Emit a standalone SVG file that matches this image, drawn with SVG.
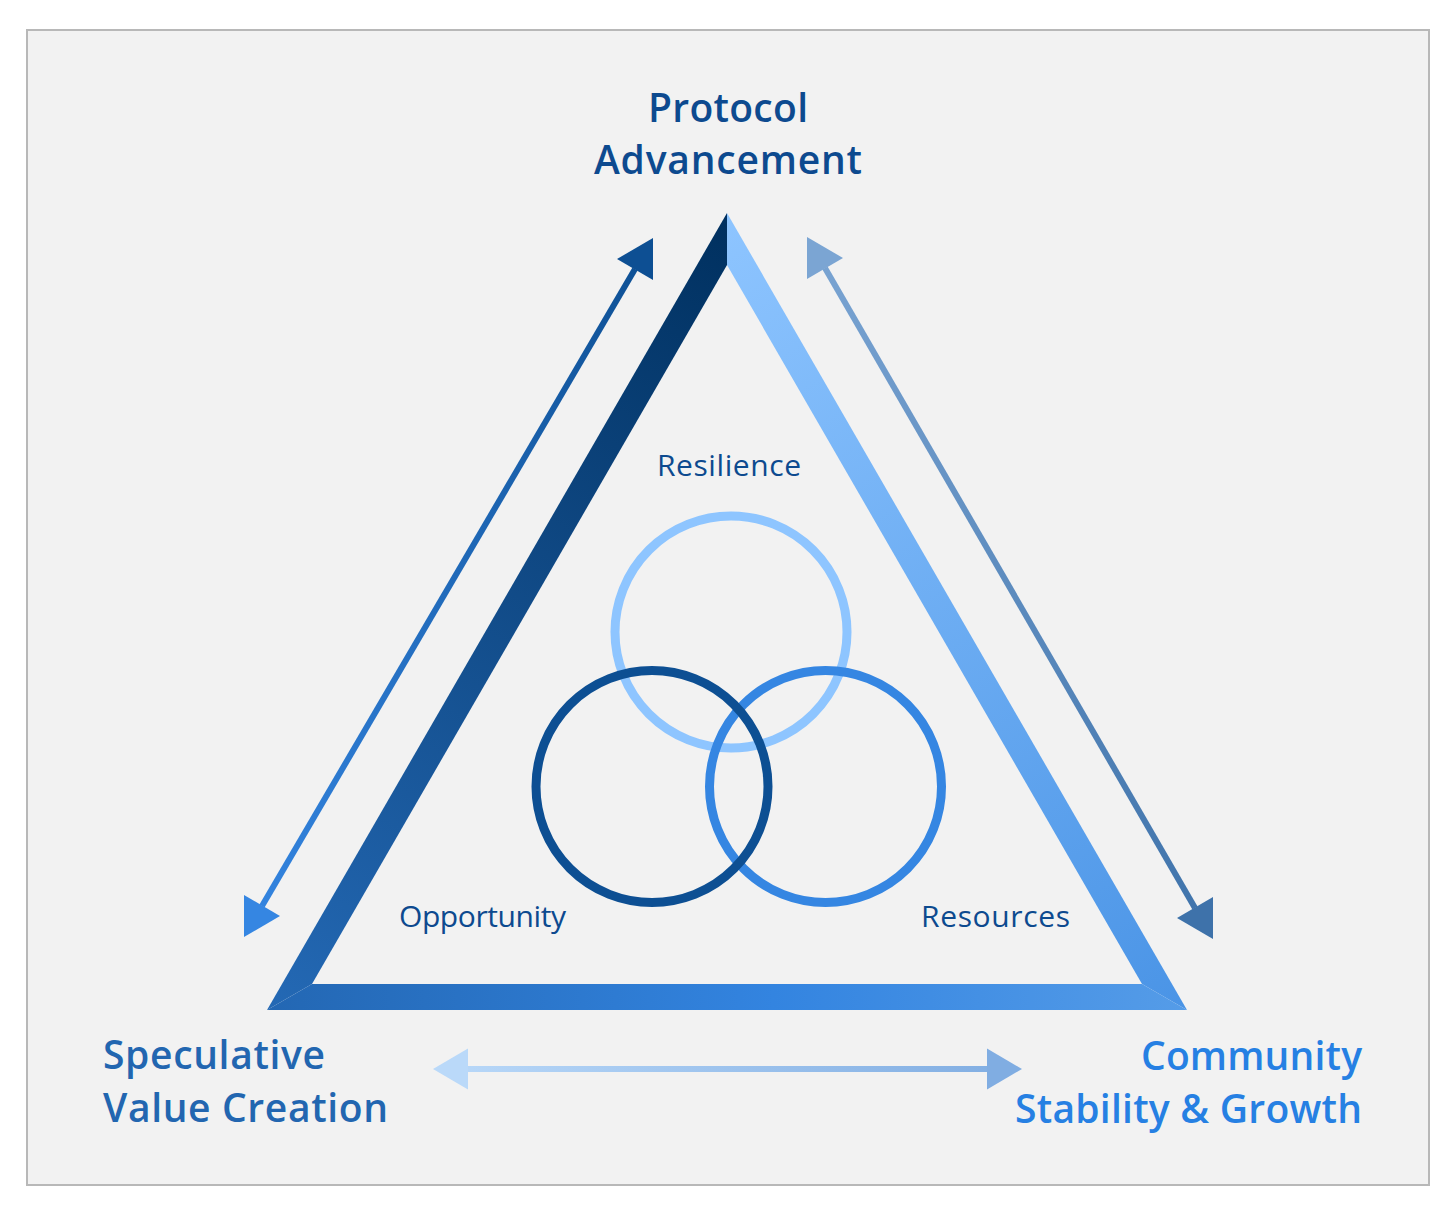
<svg xmlns="http://www.w3.org/2000/svg" width="1456" height="1213" viewBox="0 0 1456 1213">
  <style>
    .big { font-family: "Open Sans", "Liberation Sans", sans-serif; font-weight: 600; font-size: 39px; }
    .small { font-family: "Open Sans", "Liberation Sans", sans-serif; font-weight: 400; font-size: 30px; fill: #0d4a8f; }
    .ring { fill: none; stroke-width: 9; }
    .conn { fill: none; }
  </style>
  <defs>
    <linearGradient id="gLeft" gradientUnits="userSpaceOnUse" x1="727" y1="213" x2="267" y2="1010">
      <stop offset="0" stop-color="#00305f"/>
      <stop offset="1" stop-color="#2469b5"/>
    </linearGradient>
    <linearGradient id="gRight" gradientUnits="userSpaceOnUse" x1="727" y1="213" x2="1187" y2="1010">
      <stop offset="0" stop-color="#8ec5ff"/>
      <stop offset="1" stop-color="#4a94e6"/>
    </linearGradient>
    <linearGradient id="gBottom" gradientUnits="userSpaceOnUse" x1="267" y1="0" x2="1187" y2="0">
      <stop offset="0" stop-color="#2367b3"/>
      <stop offset="0.55" stop-color="#3384e0"/>
      <stop offset="1" stop-color="#559ce8"/>
    </linearGradient>
    <linearGradient id="gArrL" gradientUnits="userSpaceOnUse" x1="653" y1="238" x2="244" y2="937">
      <stop offset="0" stop-color="#0d4f93"/>
      <stop offset="1" stop-color="#3586e2"/>
    </linearGradient>
    <linearGradient id="gArrR" gradientUnits="userSpaceOnUse" x1="807" y1="237" x2="1213" y2="939">
      <stop offset="0" stop-color="#7ba5d3"/>
      <stop offset="1" stop-color="#3e72aa"/>
    </linearGradient>
    <linearGradient id="gArrB" gradientUnits="userSpaceOnUse" x1="433" y1="0" x2="1022" y2="0">
      <stop offset="0" stop-color="#bad9f9"/>
      <stop offset="1" stop-color="#80ade2"/>
    </linearGradient>
  </defs>

  <rect x="27" y="30" width="1402" height="1155" fill="#f2f2f2" stroke="#b8b8b8" stroke-width="2"/>

  <g id="triangle">
    <polygon points="727,213 727,265 312,984 267,1010" fill="url(#gLeft)"/>
    <polygon points="727,213 727,265 1142,984 1187,1010" fill="url(#gRight)"/>
    <polygon points="267,1010 312,984 1142,984 1187,1010" fill="url(#gBottom)"/>
  </g>

  <g id="circle-resilience">
    <circle class="ring" cx="731" cy="632" r="116" stroke="#8ec5ff"/>
  </g>
  <g id="circle-resources">
    <circle class="ring" cx="825.5" cy="786.5" r="116" stroke="#3586e2"/>
  </g>
  <g id="circle-opportunity">
    <circle class="ring" cx="652" cy="786.5" r="116" stroke="#0d4f93"/>
  </g>

  <g id="connectors">
    <line class="conn" x1="635" y1="269" x2="262" y2="906" stroke="url(#gArrL)" stroke-width="6"/>
    <polygon points="653,238 653,280 617,259" fill="#0d4f93"/>
    <polygon points="244,937 244,895 280,916" fill="#3586e2"/>
    <line class="conn" x1="825" y1="268" x2="1195" y2="908" stroke="url(#gArrR)" stroke-width="6"/>
    <polygon points="807,237 807,279 843,258" fill="#7ba5d3"/>
    <polygon points="1213,939 1213,897 1177,918" fill="#3e72aa"/>
    <line class="conn" x1="466" y1="1069" x2="990" y2="1069" stroke="url(#gArrB)" stroke-width="6"/>
    <polygon points="433,1069 468,1048.5 468,1089.5" fill="#bad9f9"/>
    <polygon points="1022,1069 987,1048.5 987,1089.5" fill="#80ade2"/>
  </g>

  <g id="node-protocol">
    <text class="big" fill="#0d4a8f" x="648" y="122" textLength="160" lengthAdjust="spacing">Protocol</text>
    <text class="big" fill="#0d4a8f" x="594" y="174" textLength="268" lengthAdjust="spacing">Advancement</text>
  </g>
  <g id="node-speculative">
    <text class="big" fill="#2266b0" x="103" y="1069" textLength="222" lengthAdjust="spacing">Speculative</text>
    <text class="big" fill="#2266b0" x="103" y="1122" textLength="285" lengthAdjust="spacing">Value Creation</text>
  </g>
  <g id="node-community">
    <text class="big" fill="#2680e3" x="1141" y="1070" textLength="221" lengthAdjust="spacing">Community</text>
    <text class="big" fill="#2680e3" x="1015" y="1123" textLength="347" lengthAdjust="spacing">Stability &amp; Growth</text>
  </g>

  <g id="label-resilience">
    <text class="small" x="657" y="476" textLength="144" lengthAdjust="spacing">Resilience</text>
  </g>
  <g id="label-opportunity">
    <text class="small" x="399" y="927" textLength="167" lengthAdjust="spacing">Opportunity</text>
  </g>
  <g id="label-resources">
    <text class="small" x="921" y="927" textLength="149" lengthAdjust="spacing">Resources</text>
  </g>
</svg>
